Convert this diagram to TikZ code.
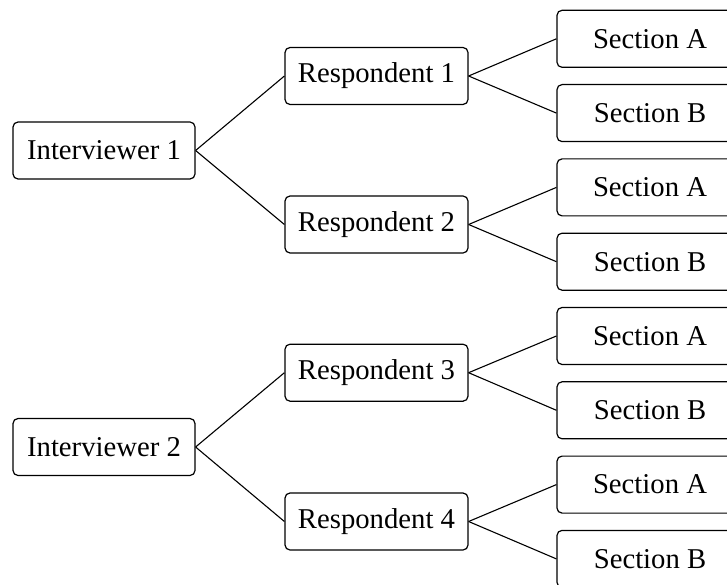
\documentclass[tikz,border=0pt]{standalone}
\usepackage{fontspec}
\setmainfont{Liberation Serif}
\begin{document}
\begin{tikzpicture}[x=1pt,y=-1pt,
  box/.style={draw, rounded corners=5pt, line width=1.2pt, minimum height=57pt, inner sep=0pt, font=\fontsize{28.7}{34}\selectfont},
  ivbox/.style={box, minimum width=182pt},
  rbox/.style={box, minimum width=183pt},
  sbox/.style={box, minimum width=186pt},
  link/.style={line width=1.1pt}]
\clip (0,0) rectangle (727,585);
\node[ivbox] (i1) at (104,150.5) {Interviewer 1};
\node[ivbox] (i2) at (104,447) {Interviewer 2};
\node[rbox] (r1) at (376.5,76) {Respondent 1};
\node[rbox] (r2) at (376.5,224.5) {Respondent 2};
\node[rbox] (r3) at (376.5,372.7) {Respondent 3};
\node[rbox] (r4) at (376.5,521.5) {Respondent 4};
\node[sbox] (a1) at (650,38.8) {Section A};
\node[sbox] (b1) at (650,113.1) {Section B};
\node[sbox] (a2) at (650,187.4) {Section A};
\node[sbox] (b2) at (650,261.7) {Section B};
\node[sbox] (a3) at (650,336) {Section A};
\node[sbox] (b3) at (650,410.3) {Section B};
\node[sbox] (a4) at (650,484.6) {Section A};
\node[sbox] (b4) at (650,558.9) {Section B};
\draw[link] (i1.east) -- (r1.west);
\draw[link] (i1.east) -- (r2.west);
\draw[link] (i2.east) -- (r3.west);
\draw[link] (i2.east) -- (r4.west);
\draw[link] (r1.east) -- (a1.west);
\draw[link] (r1.east) -- (b1.west);
\draw[link] (r2.east) -- (a2.west);
\draw[link] (r2.east) -- (b2.west);
\draw[link] (r3.east) -- (a3.west);
\draw[link] (r3.east) -- (b3.west);
\draw[link] (r4.east) -- (a4.west);
\draw[link] (r4.east) -- (b4.west);
\end{tikzpicture}
\end{document}
